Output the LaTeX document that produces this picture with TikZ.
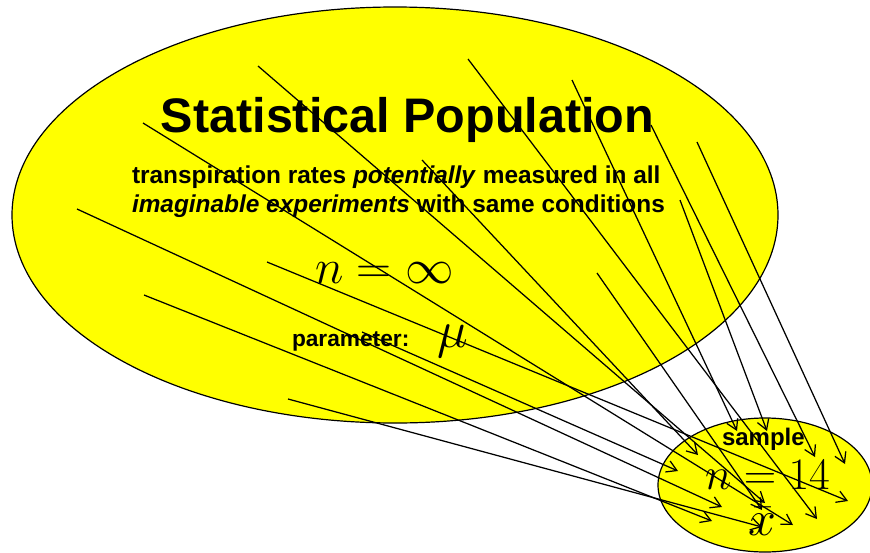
\RequirePackage{fix-cm}
\documentclass[tikz,border=0pt]{standalone}
\usepackage{fontspec}
\setmainfont{Liberation Sans}
\usetikzlibrary{arrows.meta}
\definecolor{popyellow}{HTML}{FFFF00}
\tikzset{
  blob/.style={draw=black, line width=1.2pt, fill=popyellow},
  arr/.style={line width=1.25pt, -{Straight Barb[length=10pt,width=12pt,line width=1.25pt]}},
  lbl/.style={inner sep=0pt, outer sep=0pt, font=\bfseries},
  mth/.style={inner sep=0pt, outer sep=0pt}
}
\begin{document}
\begin{tikzpicture}[x=1pt,y=-1pt]
\useasboundingbox (0,0) rectangle (870,552);
% ellipses
\draw[blob] (395,215) ellipse [x radius=383, y radius=208];
\draw[blob] (765,485) ellipse [x radius=107, y radius=67];
% texts
\node[lbl, anchor=base] (title) at (407.5,132) {\fontsize{48.5}{58}\selectfont Statistical Population};
\node[lbl, anchor=base west] (line1) at (132,183) {\fontsize{24.4}{29}\selectfont transpiration rates \textit{potentially} measured in all};
\node[lbl, anchor=base west] (line2) at (132,212) {\fontsize{24.4}{29}\selectfont \textit{imaginable experiments} with same conditions};
\node[mth, anchor=base west] (ninf) at (315,283) {\fontsize{48.5}{52}\selectfont $n=\infty$};
\node[lbl, anchor=base west] (param) at (292,346) {\fontsize{22.7}{26}\selectfont parameter:};
\node[mth, anchor=base west] (mu) at (437,347) {\fontsize{52}{56}\selectfont $\mu$};
\node[lbl, anchor=base west] (sample) at (722,445) {\fontsize{24}{28}\selectfont sample};
\node[mth, anchor=base west] (nsamp) at (705,489) {\fontsize{45}{50}\selectfont $n=14$};
\node[mth, anchor=base west] (xbar) at (748,535) {\fontsize{50}{54}\selectfont $\bar{x}$};
% start points (population members)
\coordinate (s1) at (258,66);
\coordinate (s2) at (143,123);
\coordinate (s3) at (77,209);
\coordinate (s4) at (144,295);
\coordinate (s5) at (267,262);
\coordinate (s6) at (288,399);
\coordinate (s7) at (468,59);
\coordinate (s8) at (572,80);
\coordinate (s9) at (422,160);
\coordinate (s10) at (697,142);
\coordinate (s11) at (680,200);
\coordinate (s12) at (597,273);
\coordinate (s13) at (362,332);
\coordinate (s14) at (651,125);
% end points (sample members)
\coordinate (t1) at (765,503);
\coordinate (t2) at (793,525);
\coordinate (t3) at (722,507);
\coordinate (t4) at (712,521);
\coordinate (t5) at (848,501);
\coordinate (t6) at (762,527);
\coordinate (t7) at (817,519);
\coordinate (t8) at (737,431);
\coordinate (t9) at (698,455);
\coordinate (t10) at (845,464);
\coordinate (t11) at (767,431);
\coordinate (t12) at (762,510);
\coordinate (t13) at (678,471);
\coordinate (t14) at (815,457);
% sampling arrows
\foreach \i in {1,...,14} {\draw[arr] (s\i) -- (t\i);}
\end{tikzpicture}
\end{document}
